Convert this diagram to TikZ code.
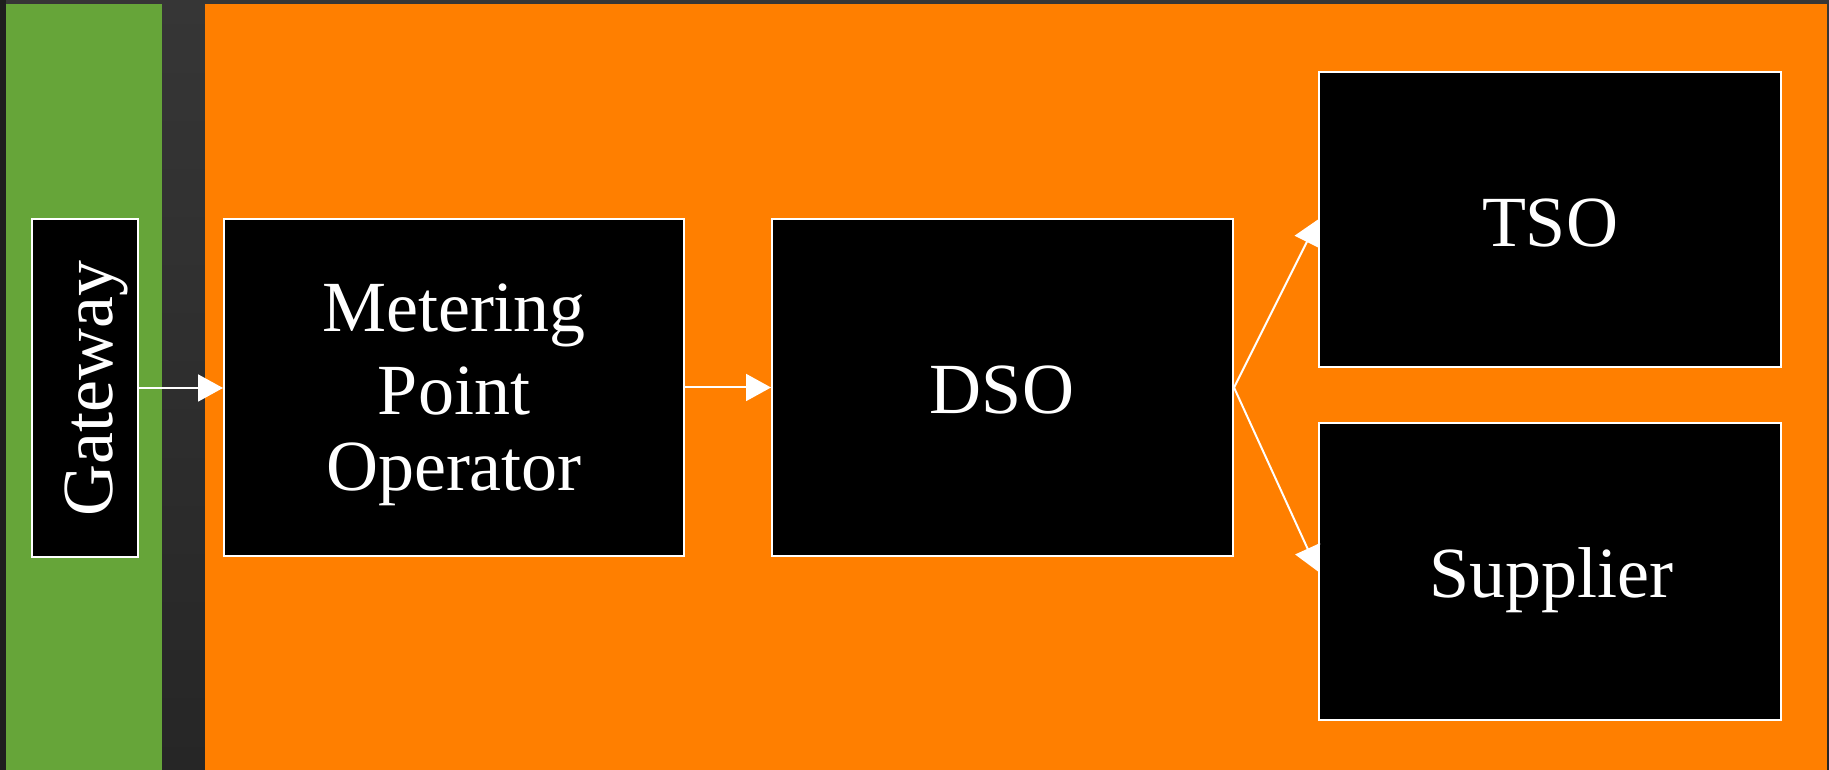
\documentclass[tikz,border=0pt]{standalone}
\usepackage{fontspec}
\setmainfont{Liberation Serif}
\usetikzlibrary{arrows.meta}
\definecolor{bgtop}{HTML}{363636}
\definecolor{bgbot}{HTML}{262626}
\definecolor{panelgreen}{HTML}{66A539}
\definecolor{panelorange}{HTML}{FF7F00}
\begin{document}
\begin{tikzpicture}[x=1pt,y=1pt,
  blk/.style={draw=white, line width=2pt, fill=black, inner sep=0pt},
  lbl/.style={text=white, inner sep=0pt, anchor=base, font=\fontsize{72}{79}\selectfont},
  conn/.style={draw=white, line width=2pt, -{Triangle[length=25pt,width=27pt]}}]
\useasboundingbox (0,0) rectangle (1829,770);
\shade[top color=bgtop, bottom color=bgbot] (0,0) rectangle (1829,770);
\fill[bgbot!80!black] (0,0) rectangle (6,770);
\fill[panelgreen] (6,0) rectangle (162,766);
\fill[panelorange] (205,0) rectangle (1827,766);
% boxes
\node[blk, minimum width=106pt, minimum height=338pt] (gw) at (85,382) {};
\node[blk, minimum width=460pt, minimum height=337pt] (mpo) at (454,382.5) {};
\node[blk, minimum width=461pt, minimum height=337pt] (dso) at (1002.5,382.5) {};
\node[blk, minimum width=462pt, minimum height=295pt] (tso) at (1550,550.5) {};
\node[blk, minimum width=462pt, minimum height=297pt] (sup) at (1550,198.5) {};
% labels
\node[lbl, rotate=90] (gwtext) at (112,381.7) {Gateway};
\node[lbl] (mpo1) at (454,438.3) {Metering};
\node[lbl] (mpo2) at (454,355) {Point};
\node[lbl] (mpo3) at (454,279) {Operator};
\node[lbl] (dsotext) at (1002,356) {DSO};
\node[lbl] (tsotext) at (1550,523.3) {TSO};
\node[lbl] (suptext) at (1551,172) {Supplier};
% connectors
\draw[conn] (gw.east) -- (gw.east -| mpo.west);
\draw[conn] (mpo.east) -- (mpo.east -| dso.west);
\draw[conn] (dso.east) -- (tso.west);
\draw[conn] (dso.east) -- (sup.west);
\end{tikzpicture}
\end{document}
